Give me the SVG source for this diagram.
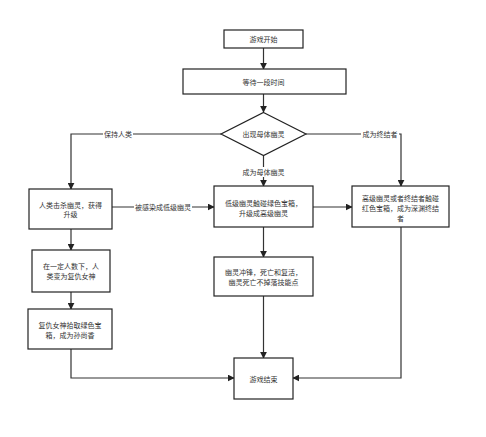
<svg xmlns="http://www.w3.org/2000/svg" width="486" height="437" viewBox="0 0 486 437">
<defs>
<marker id="arr" viewBox="0 0 10 10" refX="9" refY="5" markerWidth="7" markerHeight="7" markerUnits="userSpaceOnUse" orient="auto">
<path d="M0,0 L10,5 L0,10 z" fill="#222"/>
</marker>
<style>
.box{fill:#fff;stroke:#222;stroke-width:1.2}
.t{font-family:"Noto Sans CJK SC","Noto Sans",sans-serif;font-size:7px;fill:#333;text-anchor:middle;dominant-baseline:central}
.c{fill:none;stroke:#333;stroke-width:1.2}
.lb{fill:#fff}
</style>
</defs>
<rect width="486" height="437" fill="#fff"/>
<g id="connectors">
<path class="c" d="M263.5,48 V69" marker-end="url(#arr)"/>
<path class="c" d="M263.5,94 V112" marker-end="url(#arr)"/>
<path class="c" d="M221,134 H71 V189" marker-end="url(#arr)"/>
<path class="c" d="M306,134 H401 V186" marker-end="url(#arr)"/>
<path class="c" d="M263.5,156 V186" marker-end="url(#arr)"/>
<path class="c" d="M112,207 H214" marker-end="url(#arr)"/>
<path class="c" d="M313,207 H352" marker-end="url(#arr)"/>
<path class="c" d="M71,229 V250" marker-end="url(#arr)"/>
<path class="c" d="M71,292 V309" marker-end="url(#arr)"/>
<path class="c" d="M263.5,227 V257" marker-end="url(#arr)"/>
<path class="c" d="M263.5,296 V358" marker-end="url(#arr)"/>
<path class="c" d="M71,349 V378 H234" marker-end="url(#arr)"/>
<path class="c" d="M401,227 V378 H293" marker-end="url(#arr)"/>
<rect class="lb" x="103" y="129" width="30" height="10"/>
<text class="t" x="118" y="134">保持人类</text>
<rect class="lb" x="361" y="129" width="38" height="10"/>
<text class="t" x="380" y="134">成为终结者</text>
<rect class="lb" x="241" y="167" width="45" height="10"/>
<text class="t" x="263.5" y="172">成为母体幽灵</text>
<rect class="lb" x="134" y="202" width="58" height="10"/>
<text class="t" x="163" y="207">被感染成低级幽灵</text>
</g>
<g id="start"><rect class="box" x="224" y="30" width="79" height="18"/><text class="t" x="263.5" y="39">游戏开始</text></g>
<g id="wait"><rect class="box" x="183" y="69" width="163" height="25"/><text class="t" x="263.5" y="81.5">等待一段时间</text></g>
<g id="decision"><path class="box" d="M263.5,112.5 L306,134 L263.5,155.5 L221,134 z"/><text class="t" x="263.5" y="134">出现母体幽灵</text></g>
<g id="human"><rect class="box" x="29" y="189" width="83" height="40"/><text class="t" x="70.5" y="204.5">人类击杀幽灵，获得</text><text class="t" x="70.5" y="214">升级</text></g>
<g id="nemesis"><rect class="box" x="32" y="250" width="78" height="42"/><text class="t" x="71" y="265.5">在一定人数下，人</text><text class="t" x="71" y="275.5">类变为复仇女神</text></g>
<g id="sunshangxiang"><rect class="box" x="28" y="309" width="84" height="40"/><text class="t" x="70" y="324.5">复仇女神拾取绿色宝</text><text class="t" x="70" y="334.5">箱，成为孙尚香</text></g>
<g id="ghost-upgrade"><rect class="box" x="214" y="186" width="99" height="41"/><text class="t" x="263.5" y="202.5">低级幽灵触碰绿色宝箱，</text><text class="t" x="263.5" y="212.5">升级成高级幽灵</text></g>
<g id="abyss"><rect class="box" x="352" y="186" width="97" height="41"/><text class="t" x="400.5" y="197.5">高级幽灵或者终结者触碰</text><text class="t" x="400.5" y="207.5">红色宝箱，成为深渊终结</text><text class="t" x="400.5" y="217.5">者</text></g>
<g id="ghost-charge"><rect class="box" x="214" y="257" width="99" height="39"/><text class="t" x="263.5" y="272">幽灵冲锋，死亡和复活，</text><text class="t" x="263.5" y="282">幽灵死亡不掉落技能点</text></g>
<g id="end"><rect class="box" x="234" y="358" width="59" height="41"/><text class="t" x="263.5" y="378.5">游戏结束</text></g>
</svg>
